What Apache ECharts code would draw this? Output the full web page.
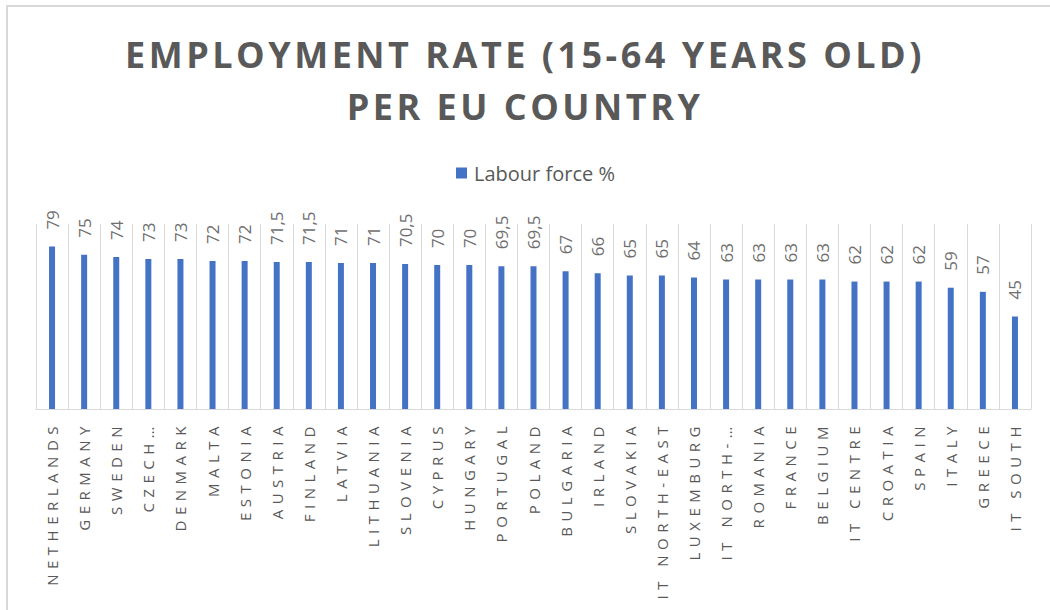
<!DOCTYPE html>
<html>
<head>
<meta charset="utf-8">
<script src="https://cdn.jsdelivr.net/npm/echarts@6/dist/echarts.min.js"></script>
<style>
    html, body { margin: 0; padding: 0; background: #fff; }
    #chart { width: 1050px; height: 610px; }
    /* Excel-like character spacing */
    #chart text[text-anchor="end"] { letter-spacing: 5.5px; }
    #chart text[text-anchor="middle"] { letter-spacing: 3.5px; }
</style>
</head>
<body>
<div id="chart"></div>
<script>
const countries = [
    'NETHERLANDS', 'GERMANY', 'SWEDEN', 'CZECH…', 'DENMARK', 'MALTA', 'ESTONIA',
    'AUSTRIA', 'FINLAND', 'LATVIA', 'LITHUANIA', 'SLOVENIA', 'CYPRUS', 'HUNGARY',
    'PORTUGAL', 'POLAND', 'BULGARIA', 'IRLAND', 'SLOVAKIA', 'IT NORTH-EAST',
    'LUXEMBURG', 'IT NORTH-…', 'ROMANIA', 'FRANCE', 'BELGIUM', 'IT CENTRE',
    'CROATIA', 'SPAIN', 'ITALY', 'GREECE', 'IT SOUTH'
];
const labourForce = [
    79, 75, 74, 73, 73, 72, 72,
    71.5, 71.5, 71, 71, 70.5, 70, 70,
    69.5, 69.5, 67, 66, 65, 65,
    64, 63, 63, 63, 63, 62,
    62, 62, 59, 57, 45
];
const titleLines = ['EMPLOYMENT RATE (15-64 YEARS OLD)', 'PER EU COUNTRY'];
const seriesName = 'Labour force %';

window.addEventListener('DOMContentLoaded', () => {
    const chartDom = document.getElementById('chart');
    const myChart = echarts.init(chartDom, null, {renderer: 'svg'});

    myChart.setOption({
        animation: false,
        backgroundColor: '#ffffff',
        graphic: [
            {
                type: 'rect',
                shape: {x: 7, y: 6, width: 1100, height: 700},
                style: {fill: 'none', stroke: '#d9d9d9', lineWidth: 2},
                silent: true
            }
        ],
        title: {
            text: titleLines.join('\n'),
            left: 'center',
            top: 28,
            padding: [0, 0, 0, 20],
            textStyle: {
                fontFamily: 'Open Sans',
                fontWeight: 'bold',
                fontSize: 36,
                lineHeight: 52,
                color: '#595959'
            }
        },
        legend: {
            left: 456,
            top: 163,
            padding: 0,
            itemWidth: 11,
            itemHeight: 11,
            itemGap: 10,
            icon: 'rect',
            textStyle: {
                fontFamily: 'Open Sans',
                fontSize: 20,
                color: '#595959',
                padding: [0, 0, 0, 2]
            },
            data: [seriesName]
        },
        grid: {
            left: 36,
            right: 19,
            top: 224,
            height: 185,
            containLabel: false
        },
        xAxis: {
            type: 'category',
            data: countries,
            axisLine: {lineStyle: {color: '#d9d9d9', width: 1}},
            axisTick: {show: false},
            splitLine: {show: true, lineStyle: {color: '#d9d9d9', width: 1}},
            axisLabel: {
                interval: 0,
                rotate: 90,
                margin: 12,
                fontFamily: 'Open Sans',
                fontSize: 15,
                color: '#595959'
            }
        },
        yAxis: {
            type: 'value',
            min: 0,
            max: 90,
            show: false,
            splitLine: {show: false}
        },
        series: [
            {
                name: seriesName,
                type: 'bar',
                data: labourForce,
                barWidth: 6,
                itemStyle: {color: '#4472c4'},
                label: {
                    show: true,
                    position: 'top',
                    rotate: 90,
                    align: 'left',
                    verticalAlign: 'middle',
                    distance: 17,
                    fontFamily: 'Open Sans',
                    fontSize: 17,
                    color: '#6f6f6f',
                    formatter: (p) => String(p.value).replace('.', ',')
                }
            }
        ]
    });
});
</script>
</body>
</html>
